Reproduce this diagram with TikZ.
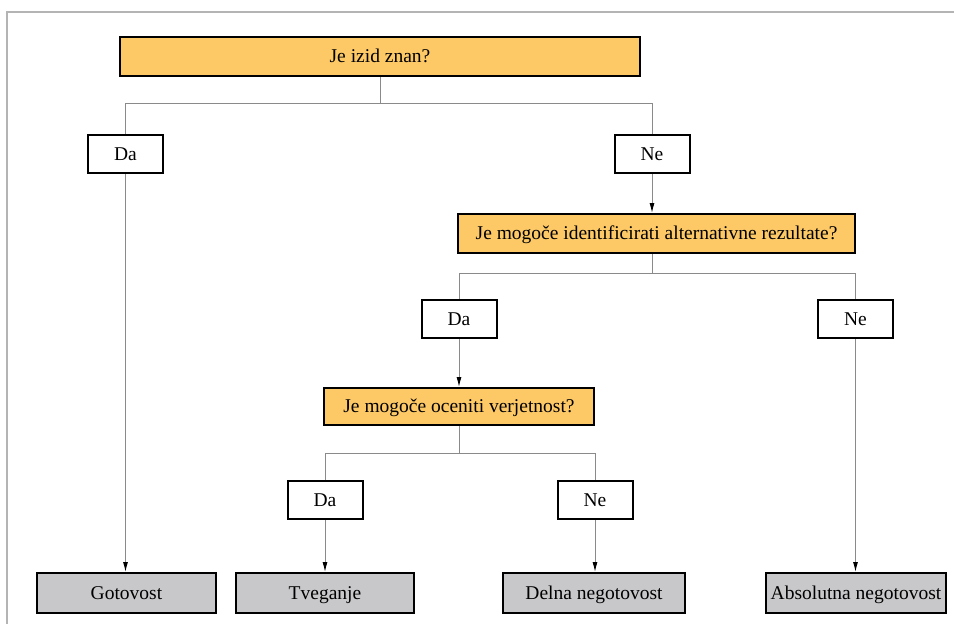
\documentclass[tikz,border=0pt]{standalone}
\usepackage{fontspec}
\setmainfont{Liberation Serif}
\usetikzlibrary{arrows.meta}
\definecolor{qfill}{HTML}{FDC966}
\definecolor{endfill}{HTML}{C8C8CA}
\definecolor{linegray}{HTML}{8A8A8A}
\definecolor{framegray}{HTML}{B4B4B4}
\tikzset{
  box/.style={draw=black, line width=2pt, inner sep=0pt, align=center,
    text height=15pt, text depth=3pt,
    font=\fontsize{19.5}{22}\selectfont},
  question/.style={box, fill=qfill, minimum height=39pt},
  answer/.style={box, fill=white, minimum width=75pt, minimum height=38pt},
  outcome/.style={box, fill=endfill, minimum height=40pt},
  conn/.style={draw=linegray, line width=1pt},
  arr/.style={conn, -{Latex[length=10pt,width=5pt,color=black]}}
}
\begin{document}
\begin{tikzpicture}[x=1pt, y=-1pt]
  \useasboundingbox (0,0) rectangle (954,624);
  % page frame
  \draw[framegray, line width=1.5pt] (7,624) -- (7,12) -- (954,12);

  % questions
  \node[question, minimum width=520pt] (q1) at (380,56.5) {Je izid znan?};
  \node[question, minimum width=397pt] (q2) at (656.5,233.5) {Je mogoče identificirati alternativne rezultate?};
  \node[question, minimum width=270pt, minimum height=37pt] (q3) at (459,406.5) {Je mogoče oceniti verjetnost?};

  % answers
  \node[answer] (da1) at (125.5,154) {Da};
  \node[answer] (ne1) at (652,154) {Ne};
  \node[answer] (da2) at (459,319) {Da};
  \node[answer] (ne2) at (855.5,319) {Ne};
  \node[answer] (da3) at (325,500) {Da};
  \node[answer] (ne3) at (595,500) {Ne};

  % outcomes
  \node[outcome, minimum width=179pt] (o1) at (126.5,593) {Gotovost};
  \node[outcome, minimum width=178pt] (o2) at (325,593) {Tveganje};
  \node[outcome, minimum width=182pt] (o3) at (594,593) {Delna negotovost};
  \node[outcome, minimum width=180pt] (o4) at (856,593) {Absolutna negotovost};

  % branches from q1
  \draw[conn] (q1.south) -- (q1.south |- 0,103);
  \draw[conn] (da1.north) -- (da1.north |- 0,103) -| (ne1.north);
  \draw[arr] (ne1.south) -- (ne1.south |- q2.north);
  \draw[arr] (da1.south) -- (da1.south |- o1.north);

  % branches from q2
  \draw[conn] (ne1.south |- q2.south) -- (ne1.south |- 0,273);
  \draw[conn] (da2.north) -- (da2.north |- 0,273) -| (ne2.north);
  \draw[arr] (da2.south) -- (da2.south |- q3.north);
  \draw[arr] (ne2.south) -- (ne2.south |- o4.north);

  % branches from q3
  \draw[conn] (q3.south) -- (q3.south |- 0,453);
  \draw[conn] (da3.north) -- (da3.north |- 0,453) -| (ne3.north);
  \draw[arr] (da3.south) -- (da3.south |- o2.north);
  \draw[arr] (ne3.south) -- (ne3.south |- o3.north);
\end{tikzpicture}
\end{document}
